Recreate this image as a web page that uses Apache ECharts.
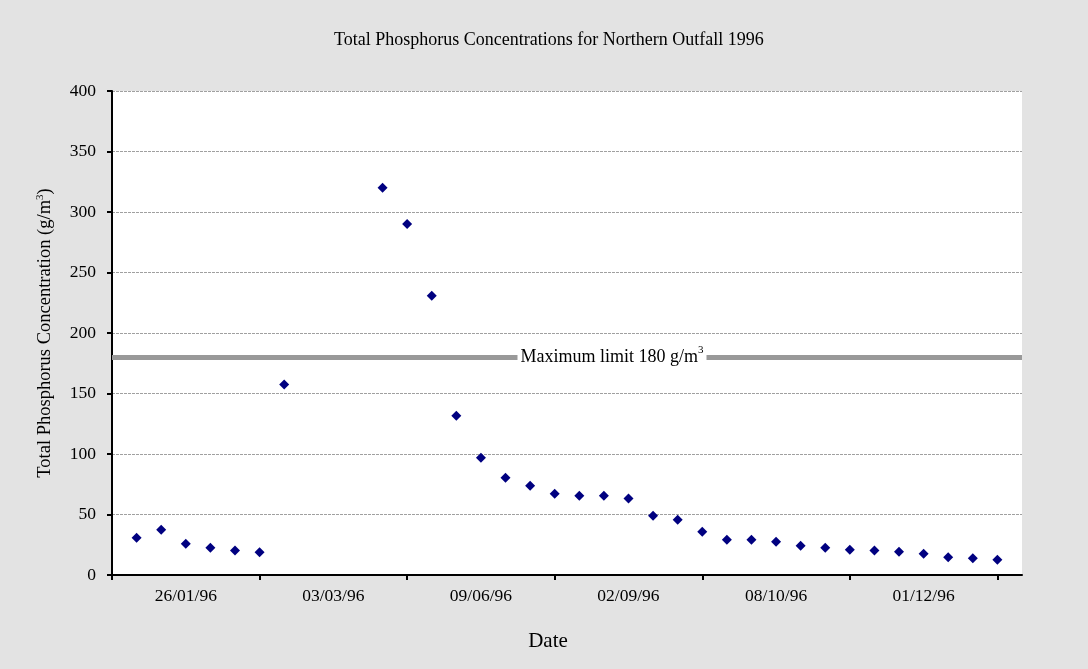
<!DOCTYPE html>
<html>
<head>
<meta charset="utf-8">
<script src="https://cdn.jsdelivr.net/npm/echarts@6/dist/echarts.min.js"></script>
<style>html,body{margin:0;padding:0;background:#e3e3e3}#c{width:1088px;height:669px}</style>
</head>
<body>
<div id="c"></div>
<script>
// Category slots (sampling positions); date labels shown at every 6th slot offset by 3
var categories = ['', '', '', '26/01/96', '', '', '', '', '', '03/03/96', '', '', '', '', '', '09/06/96', '', '', '', '', '', '02/09/96', '', '', '', '', '', '08/10/96', '', '', '', '', '', '01/12/96', '', '', '', ''];
var phosphorus = ['-', 30.7, 37.4, 25.8, 22.5, 20.2, 18.8, 157.4, '-', '-', '-', 320, 290, 230.7, 131.6, 96.9, 80.3, 73.7, 67.1, 65.5, 65.5, 63.2, 48.9, 45.6, 35.7, 29.1, 29.1, 27.4, 24.1, 22.5, 20.8, 20.2, 19.2, 17.5, 14.7, 13.9, 12.6, '-'];
var yTicks = [0, 50, 100, 150, 200, 250, 300, 350, 400];
var limitValue = 180;

var font = 'Liberation Serif';
var chart = echarts.init(document.getElementById('c'));
chart.setOption({
  backgroundColor: '#e3e3e3',
  animation: false,
  title: {
    text: 'Total Phosphorus Concentrations for Northern Outfall 1996',
    left: 329, top: 26,
    textStyle: {fontFamily: font, fontSize: 18, fontWeight: 'normal', color: '#000'}
  },
  grid: {left: 112, right: 66, top: 91, bottom: 94, show: true, backgroundColor: '#fff', borderWidth: 0},
  xAxis: {
    type: 'category',
    data: categories,
    boundaryGap: false,
    name: 'Date',
    nameLocation: 'middle',
    nameGap: 56,
    nameTextStyle: {fontFamily: font, fontSize: 21, color: '#000', padding: [0, 38, 0, 0]},
    axisLine: {lineStyle: {color: '#000', width: 2}},
    axisTick: {show: true, length: 5, interval: function (i) { return i % 6 === 0; }, lineStyle: {color: '#000', width: 2}},
    axisLabel: {interval: function (i) { return i % 6 === 3; }, margin: 12, fontFamily: font, fontSize: 17.5, color: '#000'},
    splitLine: {show: false}
  },
  yAxis: {
    type: 'value',
    min: yTicks[0], max: yTicks[yTicks.length - 1], interval: yTicks[1] - yTicks[0],
    name: '{a|Total Phosphorus Concentration (g/m}{s|3}{a|)}',
    nameLocation: 'middle',
    nameGap: 57,
    nameTextStyle: {rich: {a: {fontFamily: font, fontSize: 18.5, color: '#000'}, s: {fontFamily: font, fontSize: 11, color: '#000', verticalAlign: 'top', padding: [0, 0, 9, 0]}}},
    axisLine: {show: true, lineStyle: {color: '#000', width: 2}},
    axisTick: {show: true, length: 5, lineStyle: {color: '#000', width: 2}},
    axisLabel: {margin: 16, fontFamily: font, fontSize: 17.5, color: '#000', padding: [6, 0, 0, 0]},
    splitLine: {show: true, lineStyle: {color: '#a0a0a0', type: [3, 1], width: 1}}
  },
  series: [{
    type: 'scatter',
    data: phosphorus,
    symbol: 'diamond',
    symbolSize: [10, 10],
    itemStyle: {color: '#000080', opacity: 1},
    markLine: {
      silent: true,
      symbol: ['none', 'none'],
      data: [{yAxis: limitValue}],
      lineStyle: {color: '#999999', width: 5, type: 'solid'},
      label: {
        position: 'insideMiddle',
        distance: 0,
        offset: [45, 0],
        formatter: '{a|Maximum limit 180 g/m}{s|3}',
        backgroundColor: '#fff',
        padding: [0, 3, 0, 3],
        rich: {a: {fontFamily: font, fontSize: 18, color: '#000'}, s: {fontFamily: font, fontSize: 11, color: '#000', padding: [0, 0, 14, 0]}}
      }
    }
  }]
});
</script>
</body>
</html>
